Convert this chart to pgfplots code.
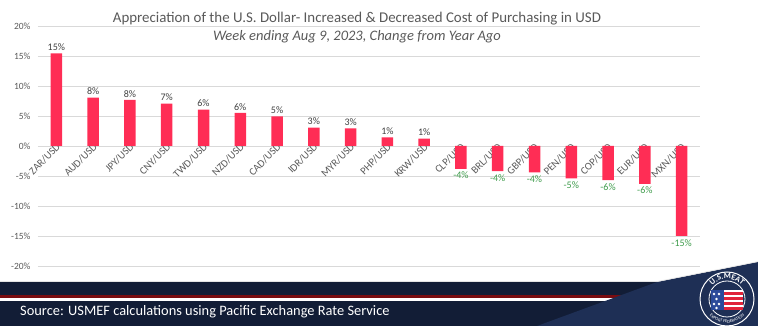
\documentclass[border=0pt]{standalone}
\usepackage{pgfplots}
\pgfplotsset{compat=1.18}
\usepackage{pgfplotstable}
\usepackage{fontspec}
\setmainfont{Carlito}
\usetikzlibrary{decorations.text}
\definecolor{txtgray}{HTML}{595959}
\definecolor{gridgray}{HTML}{D9D9D9}
\definecolor{barred}{HTML}{FF2D55}
\definecolor{labgreen}{HTML}{3E9B4B}
\definecolor{navy}{HTML}{121D36}
\definecolor{navytwo}{HTML}{1E2F55}
\definecolor{stripered}{HTML}{7A0C10}
\definecolor{flagblue}{HTML}{2B4A9A}
\definecolor{flagred}{HTML}{E0233A}

\pgfplotstableread{
x y lab
0 15.45 15
1 8.05 8
2 7.67 8
3 7.05 7
4 6.05 6
5 5.50 6
6 4.95 5
7 3.05 3
8 2.95 3
9 1.45 1
10 1.22 1
}\postable
\pgfplotstableread{
x y lab
11 -3.83 -4
12 -4.17 -4
13 -4.40 -4
14 -5.40 -5
15 -5.67 -6
16 -6.33 -6
17 -15.00 -15
}\negtable

\begin{document}
\begin{tikzpicture}[x=1pt,y=1pt]
\path[use as bounding box] (0,0) rectangle (758,326);
% banner
\fill[navy] (0,0) rectangle (758,44);
\draw[gridgray!70, line width=0.8pt] (0,44.3) -- (660,44.3);
\fill[stripered] (0,27.5) rectangle (700,30.5);
\fill[white] (0,25) rectangle (700,27.5);
\fill[navytwo] (537,0) -- (657,44) -- (758,64) -- (758,0) -- cycle;
\fill[white] (657,44.6) -- (758,64.6) -- (758,80) -- (640,80) -- cycle;
\draw[gridgray!80, line width=0.6pt] (657,44.4) -- (758,64.4);
\node[anchor=base west, text=white, font=\fontsize{14.4}{16}\selectfont, inner sep=0pt] at (20,10) {Source: USMEF calculations using Pacific Exchange Rate Service};
% logo
\begin{scope}[shift={(727,27)}]
\fill[navytwo] (0,0) circle (28);
\draw[white, line width=1pt] (0,0) circle (27);
\draw[white, line width=0.8pt] (0,0) circle (18);
\fill[flagred] (-3,-11) rectangle (16,9);
\foreach \yy in {-8,-3,2,7} {\fill[white] (-3,\yy) rectangle (16,\yy+2);}
\fill[flagblue] (-16,-11) rectangle (-3,9);
\foreach \px/\py in {-13/5,-8/5,-10.5/0,-13/-5,-8/-5,-10.5/-9} {\fill[white] (\px,\py) circle (1.3);}
\path[decorate, decoration={text along path, text align=center, text={|\bfseries\fontsize{8}{8}\selectfont\color{white}|U.S.MEAT}}] (150:20) arc[start angle=150, end angle=30, radius=20];
\path[decorate, decoration={text along path, text align=center, text={|\fontsize{4.5}{5}\selectfont\color{white}|EXPORT FEDERATION}}] (205:24) arc[start angle=205, end angle=335, radius=24];
\end{scope}
% titles
\node[anchor=base, text=txtgray, font=\fontsize{14.9}{17}\selectfont, inner sep=0pt] at (357,303) {Appreciation of the U.S. Dollar- Increased \& Decreased Cost of Purchasing in USD};
\node[anchor=base, text=txtgray, font=\fontsize{14.5}{16}\selectfont\itshape, inner sep=0pt] at (357,285) {Week ending Aug 9, 2023, Change from Year Ago};
\begin{axis}[
  at={(38pt,60pt)}, anchor=south west,
  scale only axis, width=662pt, height=240pt,
  xmin=-0.5, xmax=17.5, ymin=-20, ymax=20,
  enlargelimits=false, clip=false,
  axis x line=middle, axis y line=left,
  axis line style={draw=none, -},
  ymajorgrids, grid style={gridgray, line width=0.7pt},
  major tick length=0pt,
  ytick={-20,-15,-10,-5,0,5,10,15,20},
  yticklabels={-20\%,-15\%,-10\%,-5\%,0\%,5\%,10\%,15\%,20\%},
  yticklabel style={font=\fontsize{9.5}{10}\selectfont, text=txtgray, anchor=east, xshift=-4pt},
  xtick={0,...,17},
  xticklabels={ZAR/USD,AUD/USD,JPY/USD,CNY/USD,TWD/USD,NZD/USD,CAD/USD,IDR/USD,MYR/USD,PHP/USD,KRW/USD,CLP/USD,BRL/USD,GBP/USD,PEN/USD,COP/USD,EUR/USD,MXN/USD},
  xticklabel style={font=\fontsize{10.5}{11}\selectfont, text=txtgray, rotate=45, anchor=east, inner sep=1pt, xshift=3pt, yshift=-1pt},
  ybar, bar width=11.5pt,
]
\addplot[fill=barred, draw=none, bar shift=0pt,
  nodes near coords={\pgfplotspointmeta\%}, point meta=explicit symbolic,
  every node near coord/.append style={font=\fontsize{10}{10}\selectfont, text=black!75, inner sep=2.5pt, anchor=south}]
  table[x=x, y=y, meta=lab] {\postable};
\addplot[fill=barred, draw=none, bar shift=0pt,
  nodes near coords={\pgfplotspointmeta\%}, point meta=explicit symbolic,
  every node near coord/.append style={font=\fontsize{10}{10}\selectfont, text=labgreen, inner sep=3pt, anchor=north}]
  table[x=x, y=y, meta=lab] {\negtable};
\end{axis}
\end{tikzpicture}
\end{document}
